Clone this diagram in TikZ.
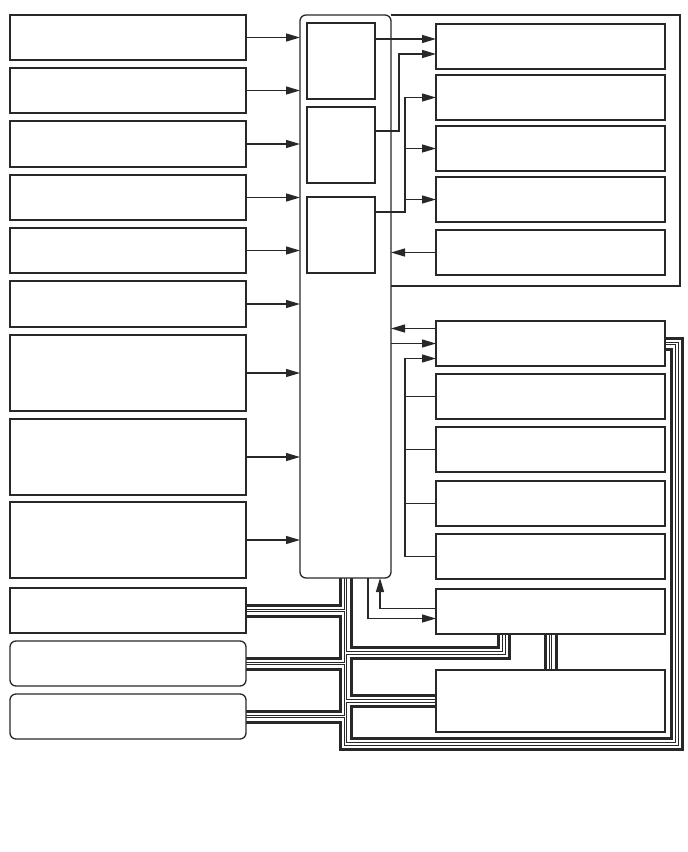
\documentclass[tikz,border=0pt]{standalone}
\usetikzlibrary{arrows.meta}
\definecolor{ink}{RGB}{40,40,40}
\pgfdeclarelayer{bg}
\pgfsetlayers{bg,main}

\begin{document}
\begin{tikzpicture}[
  x=1pt,y=-1pt,color=ink,line width=1.3pt,
  lbox/.style={draw,fill=white,anchor=north west,inner sep=0pt,outer sep=0pt,
    minimum width=236pt,minimum height=#1},
  rbox/.style={lbox=#1,minimum width=229pt},
  sub/.style={lbox=#1,minimum width=68pt},
  arr/.style={-{Triangle[length=14pt,width=8pt]}}]
  \useasboundingbox (0,0) rectangle (688,852);

  % left column: inputs, the last three sit on the bus
  \foreach \n/\y/\h in {1/15/45pt,2/68/45pt,3/121/46pt,4/175/45pt,5/228/45pt,
      6/281/46pt,7/335/76pt,8/419/76pt,9/502/76pt,10/588/45pt}
    \node[lbox=\h] (L\n) at (10,\y) {};
  \foreach \n/\y in {11/641,12/694}
    \node[lbox=45pt,rounded corners=6pt] (L\n) at (10,\y) {};

  % core with its three inner blocks, and the frame round R1..R5
  \node[lbox=563pt,minimum width=91pt,rounded corners=6pt] (core) at (300,15) {};
  \foreach \n/\y in {A/23,B/107,C/197}
    \node[sub=76pt] (s\n) at (307,\y) {};
  \coordinate (fr) at (680,286);
  \draw (core.north east) -| (fr) -- (fr -| core.east);

  % right column
  \foreach \n/\y in {1/24,2/75,3/126,4/177,5/230,6/321,7/374,8/427,9/481,10/534,11/589}
    \node[rbox=45pt] (R\n) at (436,\y) {};
  \node[rbox=62pt] (R12) at (436,670) {};

  % inputs into the core
  \foreach \n in {1,...,9}
    \draw[arr] (L\n.east) -- (L\n.east -| core.west);

  % inner blocks out to R1..R4
  \coordinate (jB) at (399,0);
  \coordinate (jC) at (405,0);
  \coordinate (r1a) at ([yshift=7.5pt]R1.west);
  \coordinate (r1b) at ([yshift=-7.5pt]R1.west);
  \draw[arr] (sA.east |- r1a) -- (r1a);
  \draw[arr] ([yshift=14pt]sB.east) -| (jB |- r1b) -- (r1b);
  \draw[arr] ([yshift=23pt]sC.east) -| (jC |- R2.west) -- (R2.west);
  \foreach \n in {3,4}
    \draw[arr] (jC |- R\n.west) -- (R\n.west);
  \draw[arr] (R5.west) -- (R5.west -| core.east);

  % R6..R10
  \coordinate (r6a) at ([yshift=15pt]R6.west);
  \coordinate (r6c) at ([yshift=-15pt]R6.west);
  \draw[arr] (r6a) -- (r6a -| core.east);
  \draw[arr] (R6.west -| core.east) -- (R6.west);
  \draw[arr] (jC |- R10.west) -- (jC |- r6c) -- (r6c);
  \foreach \n in {7,8,9,10}
    \draw (jC |- R\n.west) -- (R\n.west);

  % R11 to and from the core bottom
  \coordinate (r11a) at ([yshift=3pt]R11.west);
  \coordinate (r11b) at ([yshift=-7pt]R11.west);
  \draw[arr] (r11a) -| ([xshift=34.5pt]core.south);
  \draw[arr] ([xshift=22.5pt]core.south) |- (r11b);

  % the bus, drawn as a ribbon in four passes
  \coordinate (bend) at (677,744);
  \coordinate (b11) at (core.south |- 0,653);
  \begin{pgfonlayer}{bg}
    \foreach \w/\c in {14pt/ink,8pt/white,3.6pt/ink,1.8pt/white}
      \draw[line width=\w,\c] (core.south) |- (bend) |- (R6.east)
        (L10.east) -- (L10.east -| core.south)
        (L11.east) -- (L11.east -| core.south)
        (L12.east) -- (L12.east -| core.south)
        (b11) -| ([xshift=-46.5pt]R11.south)
        (R11.south) -- (R12.north)
        (R12.west -| core.south) -- (R12.west);
  \end{pgfonlayer}
\end{tikzpicture}
\end{document}
